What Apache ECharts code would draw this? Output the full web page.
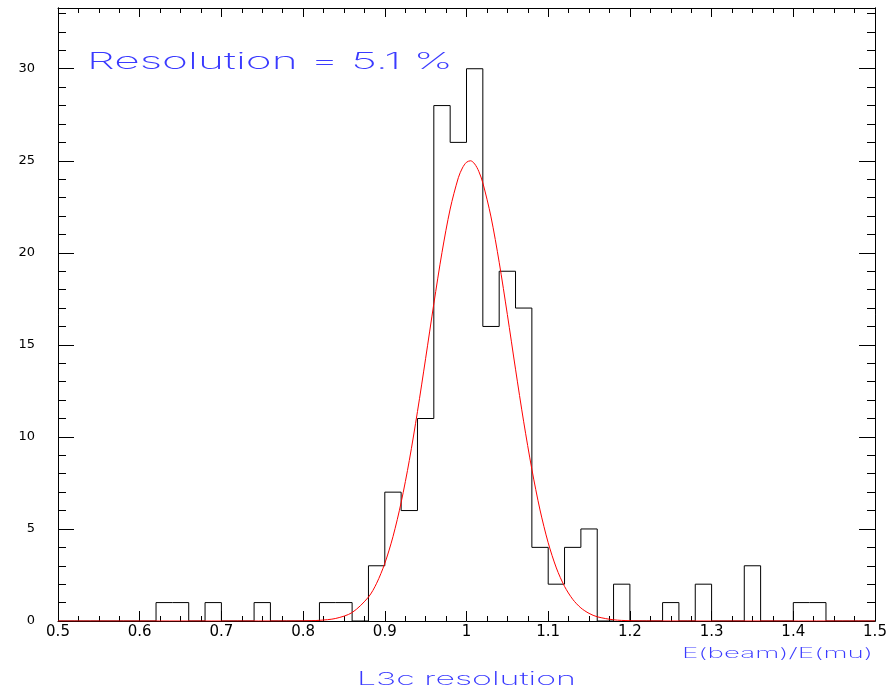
<!DOCTYPE html>
<html><head><meta charset="utf-8">
<script src="https://cdn.jsdelivr.net/npm/echarts@6/dist/echarts.min.js"></script>
<style>html,body{margin:0;padding:0;background:#fff}#c{width:893px;height:693px}</style>
</head><body><div id="c"></div>
<script>
// Histogram: 50 bins of width 0.02 from 0.5 to 1.5
const binEdges = [0.50,0.52,0.54,0.56,0.58,0.60,0.62,0.64,0.66,0.68,0.70,0.72,0.74,0.76,0.78,0.80,0.82,0.84,0.86,0.88,0.90,0.92,0.94,0.96,0.98,1.00,1.02,1.04,1.06,1.08,1.10,1.12,1.14,1.16,1.18,1.20,1.22,1.24,1.26,1.28,1.30,1.32,1.34,1.36,1.38,1.40,1.42,1.44,1.46,1.48,1.50];
const binCounts = [0,0,0,0,0,0,1,1,0,1,0,0,1,0,0,0,1,1,0,3,7,6,11,28,26,30,16,19,17,4,2,4,5,0,2,0,0,1,0,2,0,0,3,0,0,1,1,0,0,0];
// Gaussian fit curve
const fitX = [0.50,0.60,0.70,0.76,0.80,0.82,0.84,0.86,0.88,0.89,0.90,0.91,0.92,0.93,0.94,0.95,0.96,0.97,0.98,0.99,0.995,1.00,1.005,1.01,1.015,1.02,1.03,1.04,1.05,1.06,1.07,1.08,1.09,1.10,1.11,1.12,1.13,1.14,1.15,1.16,1.18,1.20,1.22,1.30,1.40,1.50];
const fitY = [0,0,0,0.0002,0.008,0.037,0.14,0.46,1.30,2.05,3.13,4.58,6.44,8.72,11.38,14.27,17.23,20.02,22.38,24.08,24.61,24.92,25.0,24.83,24.43,23.80,21.95,19.49,16.65,13.68,10.82,8.24,6.03,4.25,2.88,1.88,1.18,0.71,0.415,0.23,0.065,0.016,0.003,0,0,0];

const titleText = 'L3c resolution';
const xName = 'E(beam)/E(mu)';
const resText = 'Resolution = 5.1 %';

const histData = binEdges.map((e, i) => [e, i < binCounts.length ? binCounts[i] : binCounts[binCounts.length - 1]]);
const fitData = fitX.map((x, i) => [x, fitY[i]]);

const mctx = document.createElement('canvas').getContext('2d');
function scaleFor(text, font, w) { mctx.font = font; return w / mctx.measureText(text).width; }

const blue = '#3a3aff';
const fResText = '200 23px Inter';
const fTitle = '200 18px Inter';
const fName = '200 14px Inter';

const chart = echarts.init(document.getElementById('c'), null, {renderer: 'canvas'});
const baseX = {
  type: 'value', min: 0.5, max: 1.5, interval: 0.1,
  axisLine: {show: true, onZero: false, lineStyle: {color: '#000', width: 1}},
  axisTick: {show: true, inside: true, length: 10, lineStyle: {color: '#000', width: 1}},
  minorTick: {show: true, splitNumber: 4, length: 5, lineStyle: {color: '#000', width: 1}},
  splitLine: {show: false}
};
const baseY = {
  type: 'value', min: 0, max: 33.3,
  axisLine: {show: true, onZero: false, lineStyle: {color: '#000', width: 1}},
  splitLine: {show: false}
};
chart.setOption({
  animation: false,
  grid: {left: 58, right: 18, top: 8, bottom: 72, containLabel: false},
  xAxis: [
    Object.assign({}, baseX, {position: 'bottom',
      axisLabel: {show: true, color: '#000', fontSize: 15, fontFamily: 'DejaVu Sans', margin: 4,
        formatter: v => String(+(+v).toFixed(2))}}),
    Object.assign({}, baseX, {position: 'top', axisLabel: {show: false},
      axisTick: {show: true, inside: true, length: 9, lineStyle: {color: '#000'}}})
  ],
  yAxis: [
    Object.assign({}, baseY, {position: 'left', interval: 5,
      axisTick: {show: true, inside: true, length: 16, lineStyle: {color: '#000'}},
      axisLabel: {show: true, color: '#000', fontSize: 13, fontFamily: 'DejaVu Sans', margin: 23, showMaxLabel: false,
        formatter: v => (v % 5 === 0 ? String(v) : '')}}),
    Object.assign({}, baseY, {position: 'right', interval: 5,
      axisTick: {show: true, inside: true, length: 16, lineStyle: {color: '#000'}},
      axisLabel: {show: false}}),
    Object.assign({}, baseY, {position: 'left', interval: 1,
      axisTick: {show: true, inside: true, length: 8, lineStyle: {color: '#000'}},
      axisLabel: {show: false}}),
    Object.assign({}, baseY, {position: 'right', interval: 1,
      axisTick: {show: true, inside: true, length: 8, lineStyle: {color: '#000'}},
      axisLabel: {show: false}})
  ],
  series: [
    {type: 'line', name: 'histogram', xAxisIndex: 0, yAxisIndex: 0, step: 'end', data: histData,
      symbol: 'none', lineStyle: {color: '#000', width: 1}, z: 3},
    {type: 'line', name: 'fit', xAxisIndex: 0, yAxisIndex: 0, data: fitData, smooth: 0.3,
      symbol: 'none', lineStyle: {color: '#ff0000', width: 1}, z: 4}
  ],
  graphic: [
    {type: 'text', x: 87, y: 62, scaleX: scaleFor(resText, fResText, 366), silent: true,
      style: {text: resText, font: fResText, fill: blue, verticalAlign: 'middle', align: 'left'}},
    {type: 'text', x: 357, y: 680, scaleX: scaleFor(titleText, fTitle, 219), silent: true,
      style: {text: titleText, font: fTitle, fill: blue, verticalAlign: 'middle', align: 'left'}},
    {type: 'text', x: 682, y: 654, scaleX: scaleFor(xName, fName, 191), silent: true,
      style: {text: xName, font: fName, fill: blue, verticalAlign: 'middle', align: 'left'}}
  ]
});
</script></body></html>
